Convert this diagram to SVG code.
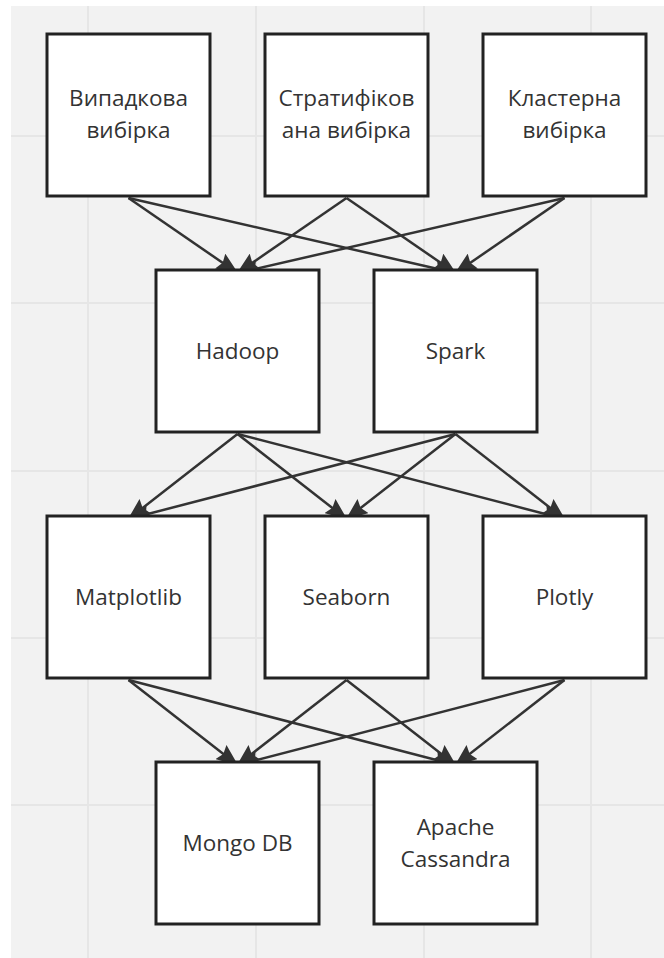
<svg xmlns="http://www.w3.org/2000/svg" width="664" height="958" viewBox="0 0 664 958">
<defs>
<style>
.bg{fill:#f2f2f2}
.grid{stroke:#e6e6e6;stroke-width:2;fill:none}
.box{fill:#ffffff;stroke:#222222;stroke-width:3}
.lbl{font-family:"Open Sans","Noto Sans","DejaVu Sans",sans-serif;font-size:22.5px;fill:#333333;text-anchor:middle}
.edge{stroke:#333333;stroke-width:2.5;fill:none;marker-end:url(#ah)}
</style>
<marker id="ah" viewBox="0 0 22 18" refX="21" refY="9" markerWidth="22" markerHeight="18" markerUnits="userSpaceOnUse" orient="auto">
<path d="M0,0 L22,9 L0,18 L3,9 z" fill="#333333"/>
</marker>
</defs>
<rect x="0" y="0" width="664" height="958" fill="#ffffff"/>
<rect class="bg" x="11" y="6" width="653" height="952"/>
<g class="grid">
<path d="M88,6V958M256,6V958M424,6V958M591,6V958"/>
<path d="M11,136H664M11,303H664M11,471H664M11,638H664M11,805H664"/>
</g>
<g id="connectors">
<path class="edge" d="M128.5,198 L237.5,273"/>
<path class="edge" d="M128.5,198 L455.5,273"/>
<path class="edge" d="M346.5,198 L237.5,273"/>
<path class="edge" d="M346.5,198 L455.5,273"/>
<path class="edge" d="M564.5,198 L237.5,273"/>
<path class="edge" d="M564.5,198 L455.5,273"/>
<path class="edge" d="M237.5,434 L128.5,519"/>
<path class="edge" d="M237.5,434 L346.5,519"/>
<path class="edge" d="M237.5,434 L564.5,519"/>
<path class="edge" d="M455.5,434 L128.5,519"/>
<path class="edge" d="M455.5,434 L346.5,519"/>
<path class="edge" d="M455.5,434 L564.5,519"/>
<path class="edge" d="M128.5,680 L237.5,765"/>
<path class="edge" d="M128.5,680 L455.5,765"/>
<path class="edge" d="M346.5,680 L237.5,765"/>
<path class="edge" d="M346.5,680 L455.5,765"/>
<path class="edge" d="M564.5,680 L237.5,765"/>
<path class="edge" d="M564.5,680 L455.5,765"/>
</g>
<g id="n1"><rect class="box" x="47" y="34" width="163" height="162"/><text class="lbl" x="128.5" y="106">Випадкова</text><text class="lbl" x="128.5" y="138">вибірка</text></g>
<g id="n2"><rect class="box" x="265" y="34" width="163" height="162"/><text class="lbl" x="346.5" y="106">Стратифіков</text><text class="lbl" x="346.5" y="138">ана вибірка</text></g>
<g id="n3"><rect class="box" x="483" y="34" width="163" height="162"/><text class="lbl" x="564.5" y="106">Кластерна</text><text class="lbl" x="564.5" y="138">вибірка</text></g>
<g id="n4"><rect class="box" x="156" y="270" width="163" height="162"/><text class="lbl" x="237.5" y="359">Hadoop</text></g>
<g id="n5"><rect class="box" x="374" y="270" width="163" height="162"/><text class="lbl" x="455.5" y="359">Spark</text></g>
<g id="n6"><rect class="box" x="47" y="516" width="163" height="162"/><text class="lbl" x="128.5" y="605">Matplotlib</text></g>
<g id="n7"><rect class="box" x="265" y="516" width="163" height="162"/><text class="lbl" x="346.5" y="605">Seaborn</text></g>
<g id="n8"><rect class="box" x="483" y="516" width="163" height="162"/><text class="lbl" x="564.5" y="605">Plotly</text></g>
<g id="n9"><rect class="box" x="156" y="762" width="163" height="162"/><text class="lbl" x="237.5" y="851">Mongo DB</text></g>
<g id="n10"><rect class="box" x="374" y="762" width="163" height="162"/><text class="lbl" x="455.5" y="835">Apache</text><text class="lbl" x="455.5" y="867">Cassandra</text></g>
</svg>
